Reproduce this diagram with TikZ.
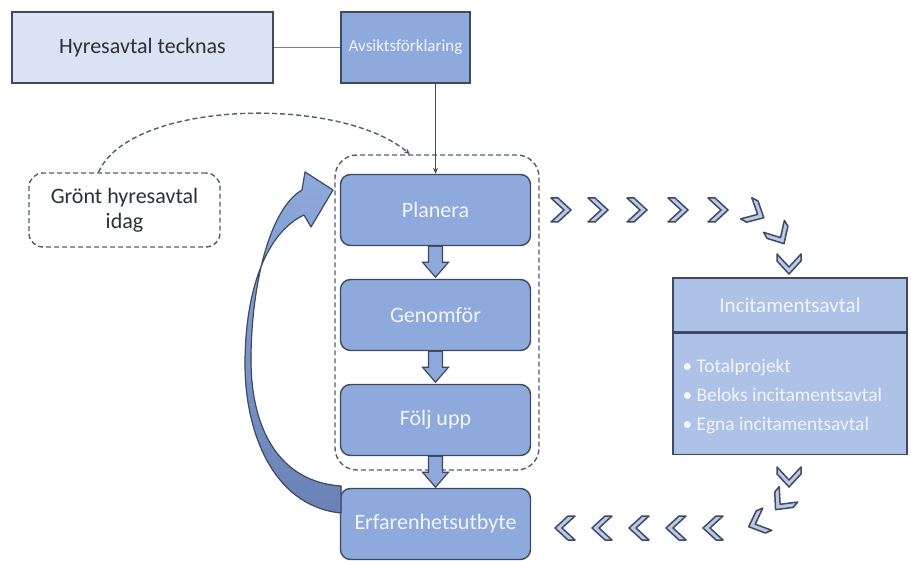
\documentclass[tikz,border=0pt]{standalone}
\usepackage{fontspec}
\setmainfont{Carlito}
\usetikzlibrary{arrows.meta}
\definecolor{kant}{HTML}{3E4A61}
\definecolor{ljusbla}{HTML}{DAE3F3}
\definecolor{mellanbla}{HTML}{8EA9DB}
\definecolor{morkbla}{HTML}{6A82B5}
\definecolor{incitbla}{HTML}{AEC1E6}
\definecolor{vinkelbla}{HTML}{B9CAE9}
\definecolor{vit}{HTML}{F2F5FB}
\definecolor{textgra}{HTML}{2B303A}
\tikzset{
  vinkel/.pic={
    \filldraw[fill=vinkelbla,draw=kant,line width=1.5pt,line join=round]
      (-10,-12) -- (-3,-12) -- (10,0) -- (-3,12) -- (-10,12) -- (3,0) -- cycle;
  }
}
\begin{document}
\begin{tikzpicture}[x=1pt,y=-1pt,
    ruta/.style={draw=kant,line width=1.4pt,fill=mellanbla,text=vit,inner sep=0pt,
      minimum width=190pt,minimum height=71pt,rounded corners=10pt,
      font=\fontsize{22}{26}\selectfont},
    blockpil/.style={fill=mellanbla,draw=kant,line width=1.2pt,line join=miter},
    streckad/.style={draw=kant!90,dashed,line width=1.4pt,dash pattern=on 5pt off 3pt}]
  \useasboundingbox (0,0) rectangle (911,561);
  % top row
  \node[draw=kant,line width=1.4pt,fill=ljusbla,text=textgra,minimum width=261pt,
    minimum height=71pt,inner sep=0pt,font=\fontsize{22}{26}\selectfont]
    (hyres) at (142.5,47.5) {Hyresavtal tecknas};
  \node[draw=kant,line width=1.4pt,fill=mellanbla,text=vit,minimum width=129pt,
    minimum height=71pt,inner sep=0pt,font=\fontsize{17}{20}\selectfont]
    (avsikt) at (405.5,47.5) {Avsiktsförklaring};
  \draw[kant!70,line width=0.9pt] (hyres) -- (avsikt);
  % process
  \node[ruta] (planera) at (435.5,210) {Planera};
  \node[ruta] (genomfor) at (435.5,315) {Genomför};
  \node[ruta] (foljupp) at (435.5,420) {Följ upp};
  \node[ruta] (erfaren) at (435.5,524) {Erfarenhetsutbyte};
  \node[streckad,rounded corners=22pt,minimum width=204pt,minimum height=315pt]
    (ram) at (437,312.5) {};
  \foreach \a/\b in {planera/genomfor,genomfor/foljupp,foljupp/erfaren}
    \filldraw[blockpil] (\a.south) ++(-7,0) -- ++(0,16) -- ++(-6,0) -- ++(13,15)
      -- ++(13,-15) -- ++(-6,0) -- ++(0,-16) -- cycle;
  \draw[kant,line width=1.3pt,-{Stealth[length=6pt,width=5pt]}]
    (avsikt.south -| planera.north) -- (planera.north);
  % green lease
  \node[streckad,rounded corners=14pt,minimum width=191pt,minimum height=74pt,
    text=textgra,align=center,font=\fontsize{22}{25}\selectfont]
    (gront) at (124.5,210) {Grönt hyresavtal\\idag};
  \draw[streckad,-{Stealth[length=6pt,width=5pt]}]
    ([xshift=-26pt]gront.north) .. controls (130,100) and (340,95) .. ([xshift=-27pt]ram.north);
  % big return arrow
  \fill[top color=mellanbla,bottom color=morkbla,draw=kant,line width=1.2pt,line join=round]
    (341,513) .. controls (272,506) and (244,430) .. (245,360)
    .. controls (246,285) and (268,232) .. (304,215)
    -- (311,227) -- (333,190) -- (305,172) -- (302,190)
    .. controls (268,210) and (251,290) .. (251,360)
    .. controls (251,430) and (280,482) .. (341,486) -- cycle;
  % incentive agreement
  \node[draw=kant,line width=1.4pt,fill=incitbla,text=vit,minimum width=234pt,
    minimum height=54pt,inner sep=0pt,font=\fontsize{21}{25}\selectfont]
    (incit) at (790,305) {Incitamentsavtal};
  \node[draw=kant,line width=1.4pt,fill=incitbla,minimum width=234pt,
    minimum height=121pt,inner sep=0pt,anchor=north] (incitlista) at (incit.south) {};
  \node[text=vit,align=left,anchor=west,font=\fontsize{19.4}{29}\selectfont]
    (punkter) at (679,396) {\textbullet\ Totalprojekt\\\textbullet\ Beloks incitamentsavtal\\\textbullet\ Egna incitamentsavtal};
  % chevrons
  \foreach \x in {561,598,637,678,718}
    \pic at (\x,210) {vinkel};
  \pic[rotate=-28] at (755,213) {vinkel};
  \pic[rotate=-60] at (779,235) {vinkel};
  \pic[rotate=-90] at (789,264) {vinkel};
  \pic[rotate=-90] at (789,477) {vinkel};
  \pic[rotate=-130] at (782,502) {vinkel};
  \pic[rotate=-158] at (758,523) {vinkel};
  \foreach \x in {565,602,639,676,713}
    \pic[rotate=180] at (\x,528) {vinkel};
\end{tikzpicture}
\end{document}
